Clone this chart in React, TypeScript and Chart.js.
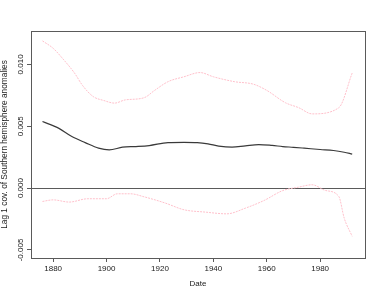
import React, { useEffect, useRef } from "react";
import { Chart, registerables } from "chart.js";

Chart.register(...registerables);

const covYears = [1876, 1882, 1887, 1892, 1897, 1901, 1906, 1911, 1916, 1923, 1929, 1934, 1938, 1942, 1947, 1952, 1957, 1962, 1966, 1970, 1974, 1980, 1985, 1989, 1992];
const covValues = [0.00538, 0.00485, 0.00417, 0.00368, 0.00323, 0.00309, 0.00331, 0.00336, 0.00344, 0.00368, 0.0037, 0.00368, 0.00358, 0.0034, 0.00331, 0.00342, 0.00352, 0.00345, 0.00336, 0.0033, 0.00323, 0.00312, 0.00304, 0.0029, 0.00275];

const upperYears = [1876, 1880, 1884, 1888, 1891, 1895, 1899, 1903, 1907, 1914, 1918, 1923, 1929, 1935, 1940, 1948, 1955, 1960, 1967, 1972, 1977, 1987, 1992];
const upperValues = [0.0119, 0.0113, 0.01036, 0.0093, 0.0083, 0.0074, 0.00708, 0.00687, 0.00713, 0.0073, 0.0079, 0.0086, 0.009, 0.00934, 0.009, 0.0086, 0.0084, 0.0079, 0.0069, 0.0065, 0.006, 0.0065, 0.0093];

const lowerYears = [1876, 1880, 1886, 1893, 1900, 1904, 1909, 1914, 1922, 1929, 1937, 1945, 1952, 1959, 1966, 1972, 1977, 1982, 1987, 1989, 1992];
const lowerValues = [-0.00108, -0.00095, -0.00113, -0.00086, -0.00086, -0.00046, -0.00046, -0.0007, -0.00121, -0.00175, -0.00194, -0.00208, -0.00162, -0.001, -0.0002, 0.00008, 0.00027, -0.00019, -0.00068, -0.00242, -0.0039];

const xTicks = [1880, 1900, 1920, 1940, 1960, 1980];
const yTicks = [-0.005, 0, 0.005, 0.01];
const yTickLabels = ["-0.005", "0.000", "0.005", "0.010"];

const FONT = "'Liberation Sans', Arial, Helvetica, sans-serif";

const pts = (xs: number[], ys: number[]) => xs.map((x, i) => ({ x, y: ys[i] }));

export default function App() {
  const ref = useRef<HTMLCanvasElement | null>(null);

  useEffect(() => {
    if (!ref.current) return;
    const decor = {
      id: "decor",
      beforeDatasetsDraw(chart: any) {
        const { ctx, chartArea } = chart;
        const y = chart.scales.y;
        const zy = Math.round(y.getPixelForValue(0)) + 0.5;
        ctx.save();
        ctx.strokeStyle = "#5a5a5a";
        ctx.lineWidth = 1;
        ctx.beginPath();
        ctx.moveTo(chartArea.left, zy);
        ctx.lineTo(chartArea.right, zy);
        ctx.stroke();
        ctx.restore();
      },
      afterDraw(chart: any) {
        const { ctx, chartArea } = chart;
        const y = chart.scales.y;
        ctx.save();
        ctx.strokeStyle = "#5a5a5a";
        ctx.lineWidth = 1;
        ctx.strokeRect(
          Math.round(chartArea.left) + 0.5,
          Math.round(chartArea.top) + 0.5,
          Math.round(chartArea.right - chartArea.left),
          Math.round(chartArea.bottom - chartArea.top)
        );
        ctx.fillStyle = "#1a1a1a";
        ctx.font = `8px ${FONT}`;
        ctx.textAlign = "center";
        ctx.textBaseline = "middle";
        yTicks.forEach((v, i) => {
          const py = y.getPixelForValue(v);
          ctx.save();
          ctx.translate(20.5, py);
          ctx.rotate(-Math.PI / 2);
          ctx.fillText(yTickLabels[i], 0, 0);
          ctx.restore();
        });
        ctx.restore();
      },
    };

    const chart = new Chart(ref.current, {
      type: "line",
      data: {
        datasets: [
          {
            data: pts(upperYears, upperValues),
            borderColor: "#ffc0cb",
            borderWidth: 1,
            borderDash: [2, 1],
            pointRadius: 0,
            cubicInterpolationMode: "monotone",
          },
          {
            data: pts(lowerYears, lowerValues),
            borderColor: "#ffc0cb",
            borderWidth: 1,
            borderDash: [2, 1],
            pointRadius: 0,
            cubicInterpolationMode: "monotone",
          },
          {
            data: pts(covYears, covValues),
            borderColor: "#3a3a3a",
            borderWidth: 1.2,
            pointRadius: 0,
            cubicInterpolationMode: "monotone",
          },
        ],
      },
      options: {
        responsive: false,
        animation: false,
        events: [],
        layout: { padding: { left: 0, top: 31, right: 17, bottom: 0 } },
        plugins: { legend: { display: false }, tooltip: { enabled: false } },
        scales: {
          x: {
            type: "linear",
            min: 1871.7,
            max: 1996.8,
            afterBuildTicks: (s: any) => {
              s.ticks = xTicks.map((v) => ({ value: v }));
            },
            afterFit: (s: any) => {
              s.height = 39;
            },
            grid: { drawOnChartArea: false, drawTicks: true, tickLength: 4, color: "#5a5a5a" },
            border: { display: true, color: "#5a5a5a" },
            ticks: {
              color: "#1a1a1a",
              font: { family: FONT, size: 8 },
              padding: 2,
              maxRotation: 0,
              callback: (v: any) => String(v),
            },
            title: {
              display: true,
              text: "Date",
              color: "#1a1a1a",
              font: { family: FONT, size: 8 },
              padding: { top: 0, bottom: 8 },
            },
          },
          y: {
            type: "linear",
            min: -0.00565,
            max: 0.0127,
            afterBuildTicks: (s: any) => {
              s.ticks = yTicks.map((v) => ({ value: v }));
            },
            afterFit: (s: any) => {
              s.width = 31;
            },
            grid: { drawOnChartArea: false, drawTicks: true, tickLength: 4, color: "#5a5a5a" },
            border: { display: true, color: "#5a5a5a" },
            ticks: { display: false },
            title: {
              display: true,
              text: "Lag 1 cov. of Southern hemisphere anomalies",
              color: "#1a1a1a",
              font: { family: FONT, size: 8.3 },
              padding: { top: 0, bottom: 0 },
            },
          },
        },
      },
      plugins: [decor],
    } as any);
    return () => chart.destroy();
  }, []);

  return (
    <div style={{ position: "absolute", left: 0, top: 0, width: 382, height: 297, background: "#fff" }}>
      <canvas ref={ref} width={382} height={297} style={{ display: "block" }} />
    </div>
  );
}
